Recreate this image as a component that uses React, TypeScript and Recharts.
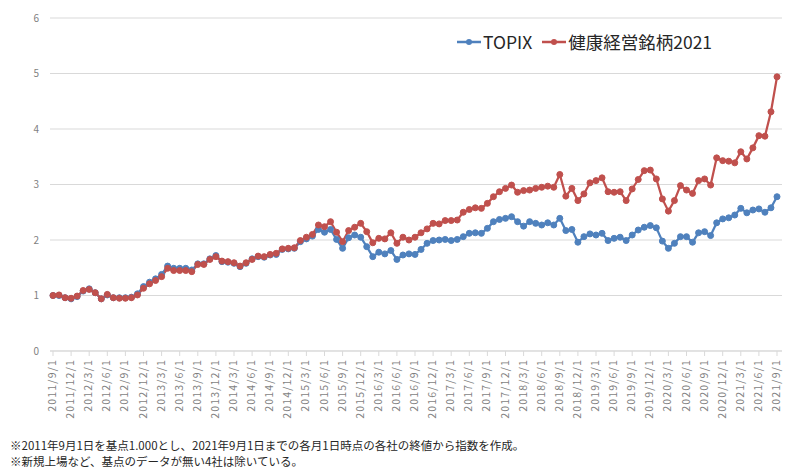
import React from 'react';
import { LineChart, Line, XAxis, YAxis, CartesianGrid } from 'recharts';

// 2011/9/1 .. 2021/9/1, monthly
const months: string[] = [];
for (let y = 2011, m = 9; y < 2021 || (y === 2021 && m <= 9); m++) {
  if (m > 12) { m = 1; y++; }
  if (y === 2021 && m > 9) break;
  months.push(`${y}/${m}/1`);
}

const topix = [
  1.00, 1.00, 0.96, 0.94, 0.98, 1.08, 1.12, 1.05, 0.94, 1.01, 0.96, 0.96,
  0.96, 0.97, 1.03, 1.16, 1.24, 1.30, 1.38, 1.53, 1.49, 1.49, 1.49, 1.46,
  1.57, 1.57, 1.66, 1.72, 1.61, 1.60, 1.58, 1.52, 1.58, 1.66, 1.70, 1.69,
  1.73, 1.74, 1.83, 1.84, 1.85, 1.97, 2.02, 2.07, 2.19, 2.14, 2.19, 2.01,
  1.85, 2.04, 2.09, 2.05, 1.88, 1.70, 1.78, 1.75, 1.81, 1.65, 1.73, 1.75,
  1.74, 1.83, 1.94, 1.99, 2.00, 2.01, 1.99, 2.01, 2.06, 2.12, 2.13, 2.12,
  2.21, 2.33, 2.37, 2.39, 2.42, 2.33, 2.25, 2.33, 2.30, 2.27, 2.31, 2.27,
  2.39, 2.17, 2.19, 1.96, 2.06, 2.11, 2.09, 2.12, 1.99, 2.03, 2.05, 1.99,
  2.09, 2.18, 2.23, 2.26, 2.22, 1.98, 1.85, 1.94, 2.06, 2.06, 1.96, 2.13,
  2.15, 2.08, 2.31, 2.38, 2.40, 2.45, 2.57, 2.49, 2.54, 2.56, 2.50, 2.58,
  2.78,
];

const kenko = [
  1.00, 1.01, 0.96, 0.95, 0.99, 1.09, 1.11, 1.05, 0.94, 1.02, 0.96, 0.95,
  0.95, 0.96, 1.01, 1.13, 1.21, 1.27, 1.34, 1.49, 1.45, 1.45, 1.45, 1.43,
  1.56, 1.56, 1.65, 1.70, 1.62, 1.61, 1.59, 1.53, 1.59, 1.65, 1.71, 1.70,
  1.74, 1.76, 1.84, 1.85, 1.86, 1.99, 2.05, 2.10, 2.27, 2.24, 2.33, 2.14,
  1.97, 2.17, 2.23, 2.30, 2.15, 1.95, 2.03, 2.02, 2.13, 1.94, 2.05, 2.00,
  2.05, 2.13, 2.20, 2.30, 2.29, 2.35, 2.35, 2.36, 2.50, 2.55, 2.58, 2.57,
  2.66, 2.78, 2.87, 2.93, 2.99, 2.86, 2.89, 2.90, 2.93, 2.95, 2.97, 2.95,
  3.18, 2.79, 2.93, 2.71, 2.83, 3.03, 3.07, 3.12, 2.87, 2.86, 2.87, 2.71,
  2.92, 3.09, 3.25, 3.26, 3.10, 2.74, 2.52, 2.71, 2.98, 2.90, 2.84, 3.07,
  3.10, 2.99, 3.48, 3.43, 3.42, 3.39, 3.59, 3.46, 3.66, 3.88, 3.87, 4.31,
  4.94,
];

const yTicks = [0, 1, 2, 3, 4, 5, 6];

const BLUE = '#4F81BD';
const RED = '#C0504D';
const FONT = '"Noto Sans CJK JP", "Noto Sans", sans-serif';

const data = months.map((m, i) => ({ month: m, topix: topix[i], kenko: kenko[i] }));

const RotTick = (props: any) => {
  const { x, y, payload } = props;
  return (
    <text
      x={x + 3}
      y={y}
      transform={`rotate(-90, ${x + 3}, ${y})`}
      textAnchor="end"
      fill="#7f7f7f"
      fontSize={10.5}
      fontFamily={FONT}
      letterSpacing={1.2}
    >
      {payload.value}
    </text>
  );
};

const LegendItem = ({ color, label }: { color: string; label: string }) => (
  <span style={{ display: 'inline-flex', alignItems: 'center', marginRight: 10 }}>
    <svg width={24} height={10}>
      <line x1={0} y1={5} x2={24} y2={5} stroke={color} strokeWidth={2.5} />
      <circle cx={12} cy={5} r={3} fill={color} />
    </svg>
    <span style={{ marginLeft: 2 }}>{label}</span>
  </span>
);

export default function App() {
  return (
    <div style={{ position: 'absolute', left: 0, top: 0, width: 800, height: 473, background: '#fff', fontFamily: FONT }}>
      <LineChart width={800} height={430} data={data} margin={{ top: 18, right: 18, bottom: 0, left: 0 }}>
        <CartesianGrid vertical={false} stroke="#d9d9d9" strokeWidth={1} />
        <XAxis
          dataKey="month"
          interval={2}
          height={79}
          tick={<RotTick />}
          tickSize={5}
          tickMargin={3}
          tickLine={{ stroke: '#d9d9d9' }}
          axisLine={{ stroke: '#d9d9d9' }}
          padding={{ left: 3, right: 5 }}
        />
        <YAxis
          domain={[0, 6]}
          ticks={yTicks}
          width={50}
          axisLine={false}
          tickLine={false}
          tickSize={0}
          tickMargin={11}
          tick={{ fill: '#7f7f7f', fontSize: 10, fontFamily: FONT }}
        />
        <Line
          type="linear"
          dataKey="topix"
          name="TOPIX"
          stroke={BLUE}
          strokeWidth={2.25}
          dot={{ r: 3, fill: BLUE, stroke: BLUE, strokeWidth: 1 }}
          isAnimationActive={false}
        />
        <Line
          type="linear"
          dataKey="kenko"
          name="健康経営銘柄2021"
          stroke={RED}
          strokeWidth={2.25}
          dot={{ r: 3, fill: RED, stroke: RED, strokeWidth: 1 }}
          isAnimationActive={false}
        />
      </LineChart>
      <div
        style={{
          position: 'absolute', left: 457, top: 27, fontSize: 17.5, color: '#262626',
          whiteSpace: 'nowrap', lineHeight: '26px',
        }}
      >
        <LegendItem color={BLUE} label="TOPIX" />
        <LegendItem color={RED} label="健康経営銘柄2021" />
      </div>
      <div style={{ position: 'absolute', left: 10, top: 437, fontSize: 11.5, color: '#262626', lineHeight: '16px' }}>
        <div>※2011年9月1日を基点1.000とし、2021年9月1日までの各月1日時点の各社の終値から指数を作成。</div>
        <div>※新規上場など、基点のデータが無い4社は除いている。</div>
      </div>
    </div>
  );
}
